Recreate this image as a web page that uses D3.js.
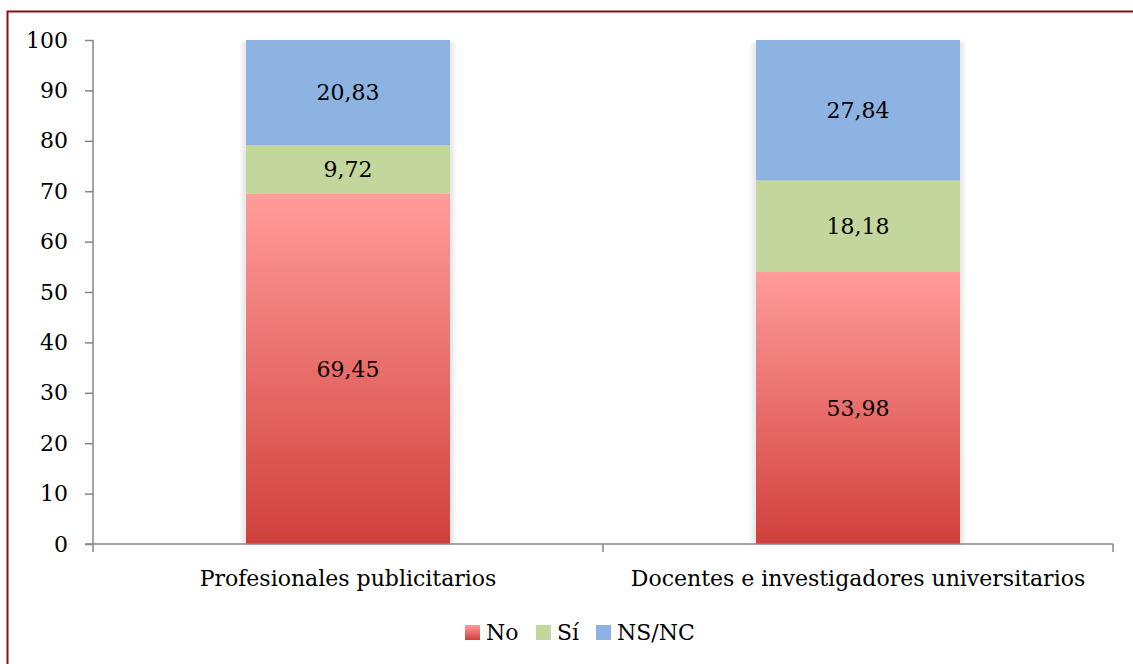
<!DOCTYPE html>
<html>
<head>
<meta charset="utf-8">
<script src="https://cdn.jsdelivr.net/npm/d3@7"></script>
<style>
  html, body { margin: 0; padding: 0; background: #fff; }
  svg { display: block; font-family: "DejaVu Serif", serif; }
</style>
</head>
<body>
<svg id="chart" width="1133" height="664"></svg>
<script>
// Data
const categories = ['Profesionales publicitarios', 'Docentes e investigadores universitarios'];
const seriesNames = ['No', 'Sí', 'NS/NC'];
const noValues = [69.45, 53.98];
const siValues = [9.72, 18.18];
const nsncValues = [20.83, 27.84];
const yTicks = [0, 10, 20, 30, 40, 50, 60, 70, 80, 90, 100];

const fmt = v => v.toFixed(2).replace('.', ',');

const svg = d3.select('#chart');
const fontSize = 22;

// outer dark red frame (runs off right/bottom edge)
svg.append('rect')
  .attr('x', 7.5).attr('y', 11.5)
  .attr('width', 1200).attr('height', 700)
  .attr('fill', 'none')
  .attr('stroke', '#8a0f14')
  .attr('stroke-width', 2);

const defs = svg.append('defs');
const grad = defs.append('linearGradient')
  .attr('id', 'redGrad')
  .attr('x1', 0).attr('y1', 0).attr('x2', 0).attr('y2', 1);
grad.append('stop').attr('offset', '0%').attr('stop-color', '#ff9c9a');
grad.append('stop').attr('offset', '100%').attr('stop-color', '#d1403b');

defs.append('filter').attr('id', 'shadow')
  .attr('x', '-10%').attr('y', '-10%').attr('width', '120%').attr('height', '120%')
  .append('feGaussianBlur').attr('stdDeviation', 2);

const colors = { 'No': 'url(#redGrad)', 'Sí': '#c3d69b', 'NS/NC': '#8db3e2' };

const plot = { left: 93, right: 1113, top: 40, bottom: 544 };

const x = d3.scaleBand()
  .domain(categories)
  .range([plot.left, plot.right])
  .paddingInner(0)
  .paddingOuter(0);
const barW = 204;

const y = d3.scaleLinear().domain([0, 100]).range([plot.bottom, plot.top]);

// stacked data
const rows = categories.map((c, i) => ({ cat: c, 'No': noValues[i], 'Sí': siValues[i], 'NS/NC': nsncValues[i] }));
const stack = d3.stack().keys(seriesNames)(rows);

// bar shadows
svg.append('g').selectAll('rect')
  .data(rows)
  .join('rect')
  .attr('x', d => x(d.cat) + x.bandwidth() / 2 - barW / 2 - 4)
  .attr('y', y(100) + 2)
  .attr('width', barW + 8)
  .attr('height', y(0) - y(100) - 2)
  .attr('fill', '#d8d8d8')
  .attr('opacity', 0.6)
  .attr('filter', 'url(#shadow)');

// bars
const layers = svg.append('g').selectAll('g')
  .data(stack)
  .join('g')
  .attr('fill', d => colors[d.key]);

layers.selectAll('rect')
  .data(d => d)
  .join('rect')
  .attr('x', d => x(d.data.cat) + x.bandwidth() / 2 - barW / 2)
  .attr('y', d => y(d[1]))
  .attr('width', barW)
  .attr('height', d => y(d[0]) - y(d[1]));

// value labels
layers.selectAll('text')
  .data(d => d.map(s => ({ s, key: d.key })))
  .join('text')
  .attr('x', d => x(d.s.data.cat) + x.bandwidth() / 2)
  .attr('y', d => (y(d.s[0]) + y(d.s[1])) / 2)
  .attr('dy', '0.35em')
  .attr('text-anchor', 'middle')
  .attr('fill', '#000')
  .attr('font-size', fontSize)
  .text(d => fmt(d.s.data[d.key]));

// y axis
const yAxis = svg.append('g')
  .attr('transform', `translate(${plot.left},0)`)
  .call(d3.axisLeft(y).tickValues(yTicks).tickSize(8).tickPadding(17));
yAxis.select('.domain').attr('stroke', '#868686').attr('stroke-width', 1.5)
  .attr('d', `M0,${plot.top}V${plot.bottom + 8}`);
yAxis.selectAll('.tick line').attr('stroke', '#868686').attr('stroke-width', 1.5);
yAxis.selectAll('.tick text')
  .attr('font-family', '"DejaVu Serif", serif')
  .attr('font-size', fontSize).attr('fill', '#000');

// x axis
const bounds = categories.map(c => x(c) + x.bandwidth());
const xAxis = svg.append('g');
xAxis.append('line')
  .attr('x1', plot.left - 8).attr('x2', plot.right)
  .attr('y1', plot.bottom).attr('y2', plot.bottom)
  .attr('stroke', '#868686').attr('stroke-width', 1.5);
xAxis.selectAll('line.tk')
  .data(bounds)
  .join('line')
  .attr('class', 'tk')
  .attr('x1', d => d).attr('x2', d => d)
  .attr('y1', plot.bottom).attr('y2', plot.bottom + 8)
  .attr('stroke', '#868686').attr('stroke-width', 1.5);
xAxis.selectAll('text')
  .data(categories)
  .join('text')
  .attr('x', d => x(d) + x.bandwidth() / 2)
  .attr('y', 586)
  .attr('text-anchor', 'middle')
  .attr('font-size', fontSize)
  .attr('fill', '#000')
  .text(d => d);

// legend
const legendPos = [465, 536, 596];
const legend = svg.append('g').selectAll('g')
  .data(seriesNames)
  .join('g')
  .attr('transform', (d, i) => `translate(${legendPos[i]},625)`);
legend.append('rect')
  .attr('width', 15).attr('height', 15)
  .attr('fill', d => colors[d]);
legend.append('text')
  .attr('x', 21).attr('y', 7.5).attr('dy', '0.35em')
  .attr('font-size', fontSize)
  .attr('fill', '#000')
  .text(d => d);
</script>
</body>
</html>
